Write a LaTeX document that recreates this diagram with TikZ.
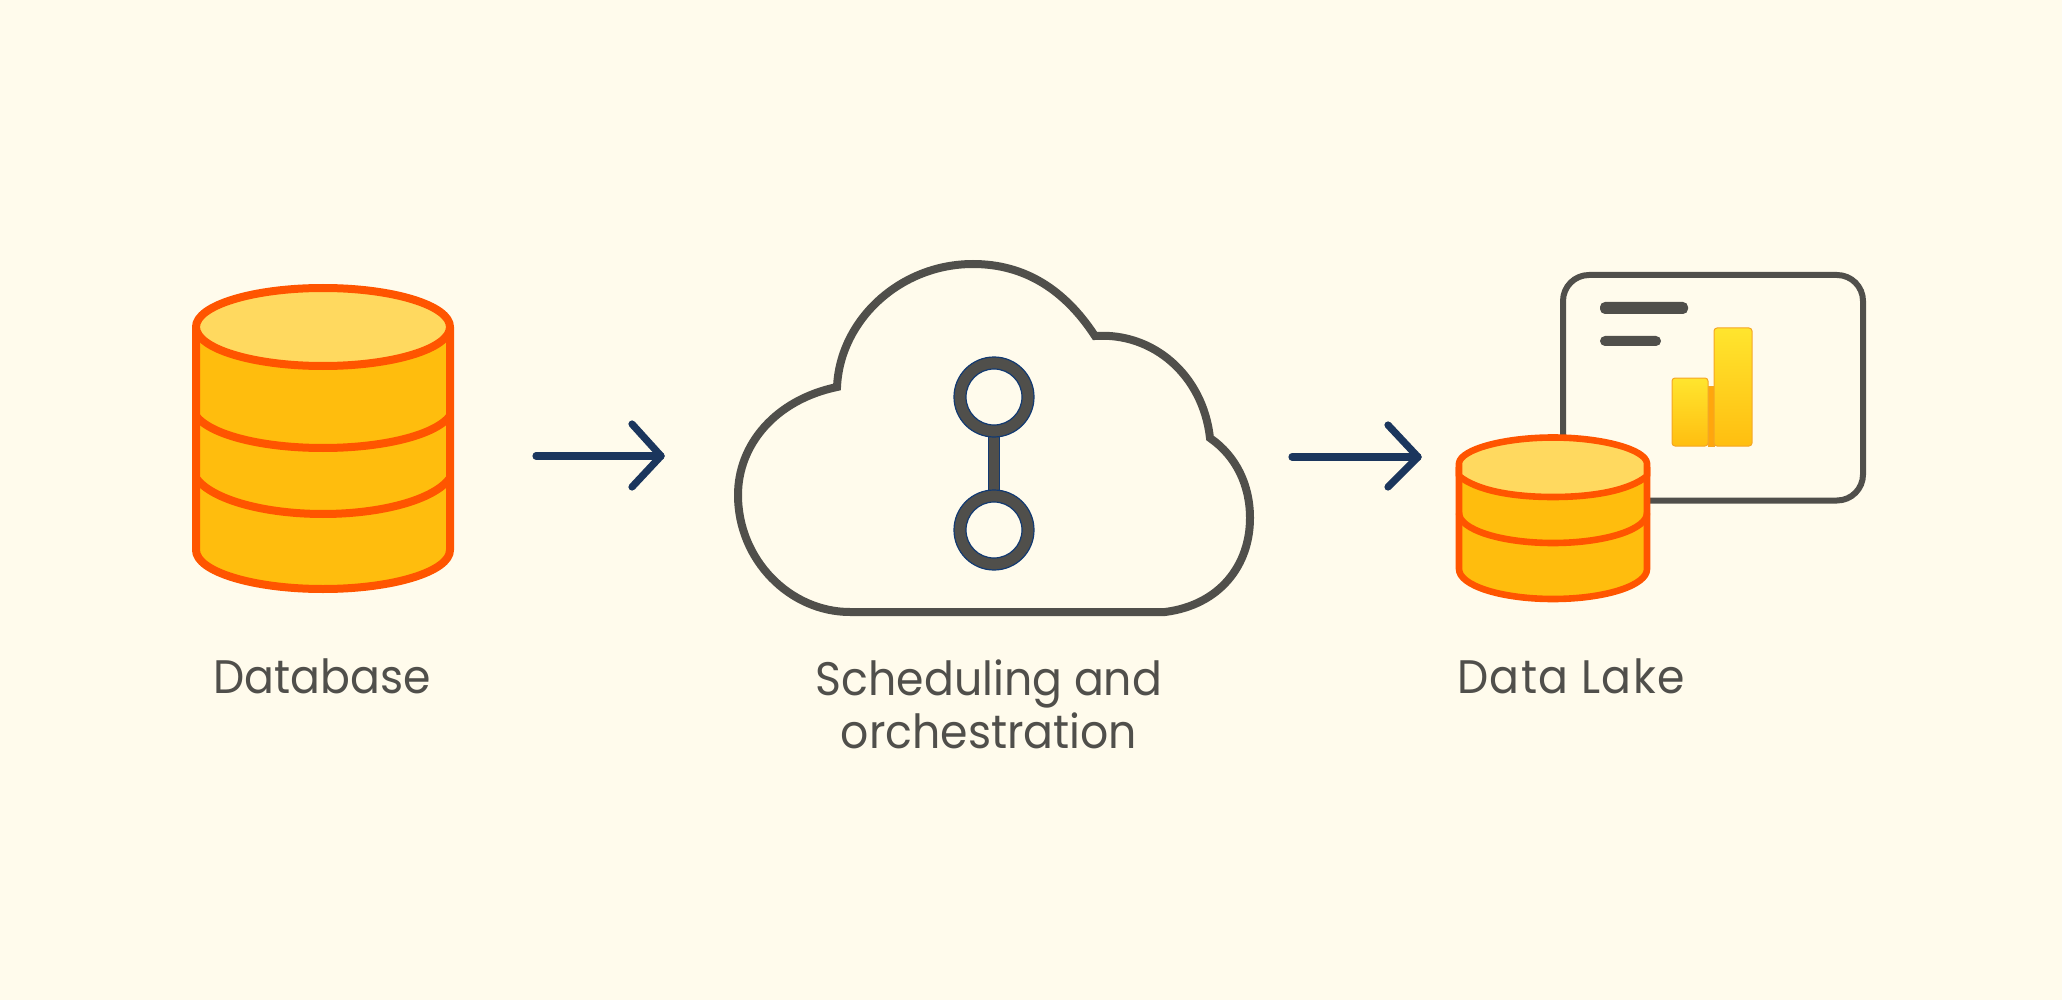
\documentclass[tikz,border=0pt]{standalone}
\usepackage{fontspec}
\setmainfont[FakeStretch=0.94]{Poppins}
\definecolor{bgc}{HTML}{FFFBEC}
\definecolor{ink}{HTML}{504F4B}
\definecolor{navy}{HTML}{1B365D}
\definecolor{ringedge}{HTML}{123A72}
\definecolor{edgeo}{HTML}{FF5500}
\definecolor{bodyy}{HTML}{FFBD0D}
\definecolor{topy}{HTML}{FFD95F}
\definecolor{barhi}{HTML}{FFE52E}
\definecolor{barlo}{HTML}{FFBE10}
\definecolor{barmid}{HTML}{FFA60D}
\definecolor{baredge}{HTML}{F5A623}
\tikzset{
  px/.style={x=0.5pt,y=-0.5pt},
  cylbig/.style={draw=edgeo,line width=4pt,line join=round},
  cylsmall/.style={draw=edgeo,line width=3.3pt,line join=round},
  flowline/.style={draw=navy,line width=3.6pt,line cap=round,line join=round},
  inkline/.style={draw=ink,line width=3pt},
  ring/.style={fill=ink,draw=ringedge,line width=0.6pt,even odd rule},
  bar/.style={draw=baredge,line width=0.5pt,rounded corners=1.5pt,top color=barhi,bottom color=barlo},
  barfill/.style={fill=ink,rounded corners=2.5pt},
  label/.style={text=ink,font=\fontsize{23.5}{26.5}\selectfont,align=center,inner sep=0pt,anchor=center}
}
\begin{document}
\begin{tikzpicture}[px]
\path[use as bounding box,fill=bgc] (0,0) rectangle (2062,1000);

% database
\path[fill=bodyy] (196,327) -- (196,550) arc[start angle=180,end angle=360,x radius=63.5pt,y radius=19.5pt] -- (450,327) -- cycle;
\draw[cylbig] (196,327) -- (196,550) arc[start angle=180,end angle=360,x radius=63.5pt,y radius=19.5pt] -- (450,327);
\draw[cylbig] (196,416) .. controls (212,436) and (265,448) .. (323,448) .. controls (381,448) and (434,436) .. (450,416);
\draw[cylbig] (196,478) .. controls (212,500) and (265,514) .. (323,514) .. controls (381,514) and (434,500) .. (450,478);
\draw[cylbig,fill=topy] (323,327) ellipse[x radius=63.5pt,y radius=19.5pt];

% arrow 1
\coordinate (a1s) at (536,456);
\coordinate (a1t) at (661,456);
\coordinate (a1u) at (632,424);
\coordinate (a1d) at (632,487);
\draw[flowline] (a1s) -- (a1t);
\draw[flowline] (a1u) -- (a1t) -- (a1d);

% cloud
\draw[draw=ink,line width=4pt,line join=miter] (850,612) -- (1165,612)
  .. controls (1220,605) and (1250,565) .. (1250,518)
  .. controls (1250,485) and (1236,456) .. (1210,438)
  .. controls (1203,375) and (1153,332) .. (1095,336)
  .. controls (1065,290) and (1025,264) .. (973,264)
  .. controls (900,264) and (840,320) .. (837,387)
  .. controls (775,400) and (738,445) .. (738,495)
  .. controls (738,560) and (790,612) .. (850,612) -- cycle;

% orchestration glyph
\path[fill=ink,draw=ringedge,line width=0.6pt] (988.2,430) rectangle (999.8,495);
\path[ring] (994,397) circle[radius=20pt] (994,397) circle[radius=14pt];
\path[ring] (994,530) circle[radius=20pt] (994,530) circle[radius=14pt];

% report card
\draw[inkline,rounded corners=13pt] (1563,275) rectangle (1863,500.5);
\path[barfill] (1600,302) rectangle (1688,314);
\path[barfill] (1600,336) rectangle (1661,346);
\path[bar,top color=barmid,bottom color=barmid,rounded corners=0pt] (1708,386) rectangle (1714,446);
\path[bar] (1672,378) rectangle (1708,446);
\path[bar] (1714,328) rectangle (1752,446);

% data lake cylinder
\path[fill=bodyy] (1459,467) -- (1459,569) arc[start angle=180,end angle=360,x radius=47pt,y radius=15pt] -- (1647,467) -- cycle;
\draw[cylsmall] (1459,467) -- (1459,569) arc[start angle=180,end angle=360,x radius=47pt,y radius=15pt] -- (1647,467);
\draw[cylsmall] (1459,513) arc[start angle=180,end angle=360,x radius=47pt,y radius=15pt];
\draw[cylsmall,fill=topy] (1459,463) .. controls (1461,449) and (1505,437.5) .. (1553,437.5)
  .. controls (1601,437.5) and (1645,449) .. (1647,463) -- (1647,476)
  .. controls (1630,490) and (1595,497) .. (1553,497)
  .. controls (1511,497) and (1476,490) .. (1459,476) -- cycle;

% arrow 2
\coordinate (a2s) at (1292,457);
\coordinate (a2t) at (1418,457);
\coordinate (a2u) at (1388,425);
\coordinate (a2d) at (1388,487);
\draw[flowline] (a2s) -- (a2t);
\draw[flowline] (a2u) -- (a2t) -- (a2d);

% labels
\node[label,anchor=base] (l1) at (322,693) {Database};
\node[label] (l2) at (989,704) {Scheduling and\\orchestration};
\node[label,anchor=base] (l3) at (1571,693) {\addfontfeature{LetterSpace=2.8}Data Lake};
\end{tikzpicture}
\end{document}
